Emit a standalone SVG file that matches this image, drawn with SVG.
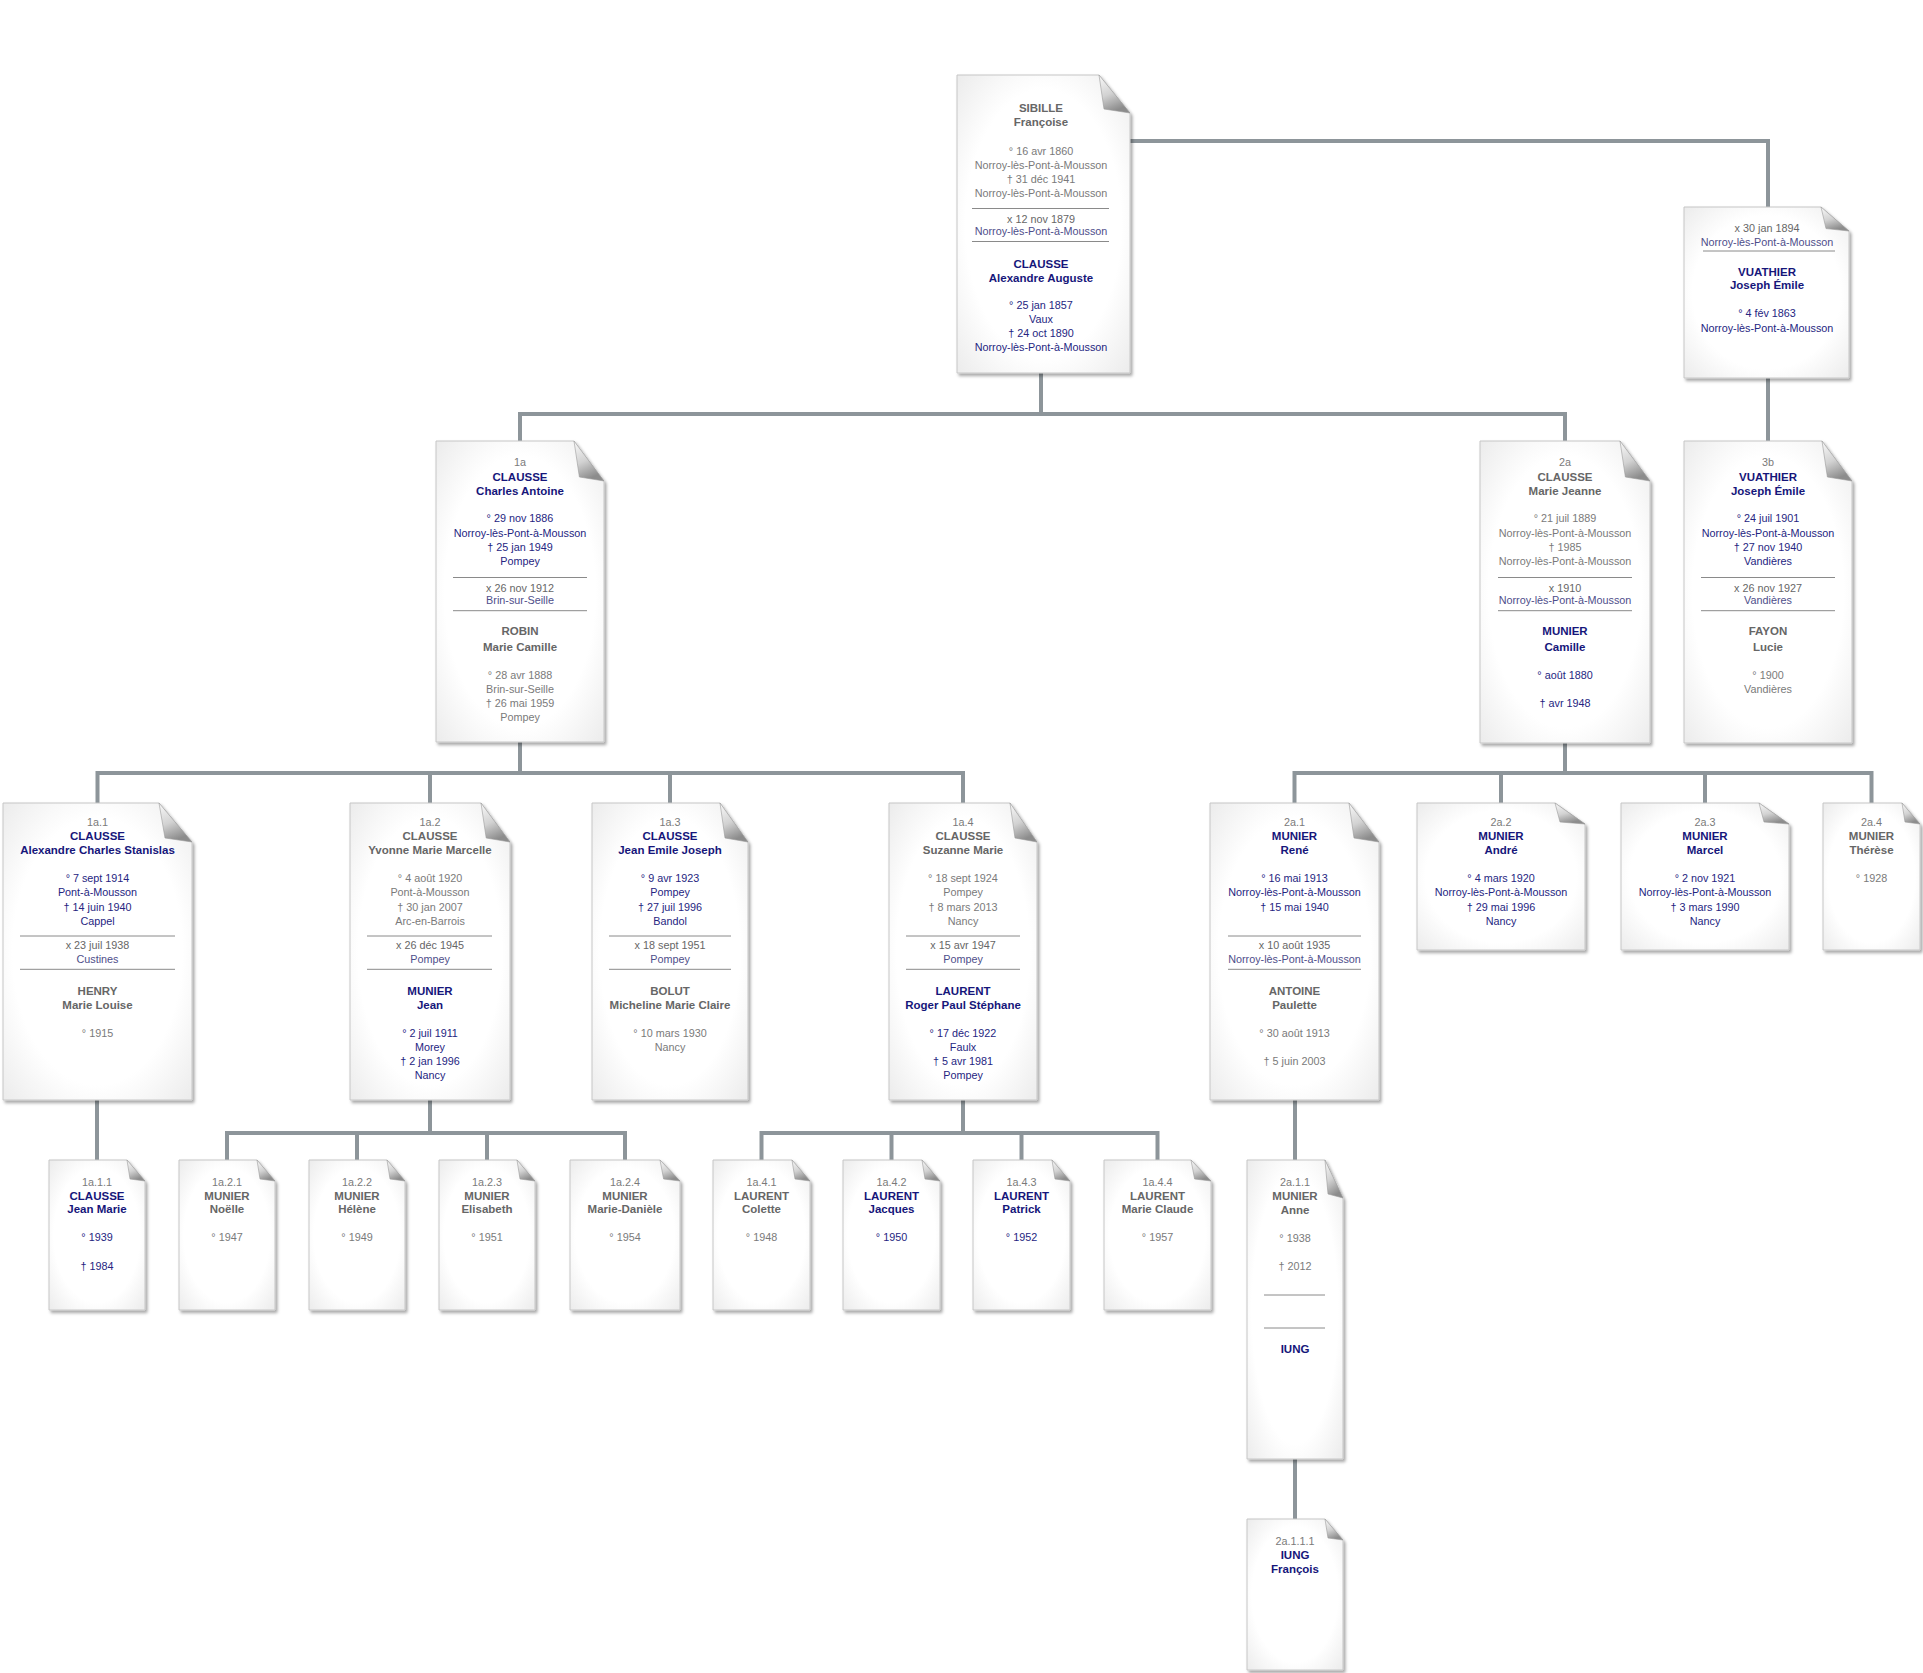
<svg xmlns="http://www.w3.org/2000/svg" width="1923" height="1673" viewBox="0 0 1923 1673">
<style>
.pg{fill:url(#pap);stroke:#c6c6c6;stroke-width:1;filter:url(#sh)}
.fd{fill:url(#fold);stroke:#9a9a9a;stroke-width:0.6}
.sep{stroke:#8a8a8a;stroke-width:1}
.cn{fill:none;stroke:#8d959a;stroke-width:4}
text{font-family:"Liberation Sans",Arial,sans-serif;font-size:10.8px;text-anchor:middle}
.n{fill:#7a7a7a}
.g{fill:#7a7a7a}
.gb{fill:#666666;font-weight:bold;font-size:11.5px}
.b{fill:#25257f}
.bb{fill:#16167a;font-weight:bold;font-size:11.5px}
.m{fill:#666666}
.mp{fill:#4e4e8a}
</style>
<defs>
<filter id="sh" x="-10%" y="-10%" width="125%" height="120%"><feDropShadow dx="2" dy="2.5" stdDeviation="1.8" flood-color="#000" flood-opacity="0.35"/></filter>
<radialGradient id="pap" cx="0.5" cy="0.5" r="0.75"><stop offset="0.6" stop-color="#ffffff"/><stop offset="1" stop-color="#e8e8e8"/></radialGradient>
<linearGradient id="fold" x1="0" y1="0" x2="0.35" y2="1"><stop offset="0" stop-color="#fafafa"/><stop offset="0.55" stop-color="#d2d2d2"/><stop offset="1" stop-color="#8c8c8c"/></linearGradient>
</defs>
<rect width="1923" height="1673" fill="#ffffff"/>
<g id="connectors">
<path class="cn" d="M1128,141 H1768 V207"/>
<path class="cn" d="M1041,373 V414"/>
<path class="cn" d="M520,441 V414 H1565 V441"/>
<path class="cn" d="M1768,378 V441"/>
<path class="cn" d="M520,742 V773"/>
<path class="cn" d="M97.5,803 V773 H963 V803"/>
<path class="cn" d="M430,773 V803"/>
<path class="cn" d="M670,773 V803"/>
<path class="cn" d="M1565,743 V773"/>
<path class="cn" d="M1294.5,803 V773 H1871.5 V803"/>
<path class="cn" d="M1501,773 V803"/>
<path class="cn" d="M1705,773 V803"/>
<path class="cn" d="M97,1100 V1160"/>
<path class="cn" d="M430,1100 V1133"/>
<path class="cn" d="M227,1160 V1133 H625 V1160"/>
<path class="cn" d="M357,1133 V1160"/>
<path class="cn" d="M487,1133 V1160"/>
<path class="cn" d="M963,1100 V1133"/>
<path class="cn" d="M761.5,1160 V1133 H1157.5 V1160"/>
<path class="cn" d="M891.5,1133 V1160"/>
<path class="cn" d="M1021.5,1133 V1160"/>
<path class="cn" d="M1295,1100 V1160"/>
<path class="cn" d="M1295,1459 V1519"/>
</g>

<g id="n-root">
<path class="pg" d="M957,75 H1099 L1130,113 V373 H957 Z"/>
<path class="fd" d="M1099,75 L1130,113 L1104,109 Z"/>
<text class="gb" x="1041" y="112">SIBILLE</text>
<text class="gb" x="1041" y="126.3">Françoise</text>
<text class="g" x="1041" y="155">° 16 avr 1860</text>
<text class="g" x="1041" y="168.7">Norroy-lès-Pont-à-Mousson</text>
<text class="g" x="1041" y="182.5">† 31 déc 1941</text>
<text class="g" x="1041" y="196.5">Norroy-lès-Pont-à-Mousson</text>
<line class="sep" x1="972" y1="208.5" x2="1109" y2="208.5"/>
<text class="m" x="1041" y="223">x 12 nov 1879</text>
<text class="mp" x="1041" y="235">Norroy-lès-Pont-à-Mousson</text>
<line class="sep" x1="972" y1="241.5" x2="1109" y2="241.5"/>
<text class="bb" x="1041" y="268">CLAUSSE</text>
<text class="bb" x="1041" y="281.5">Alexandre Auguste</text>
<text class="b" x="1041" y="309">° 25 jan 1857</text>
<text class="b" x="1041" y="323.3">Vaux</text>
<text class="b" x="1041" y="337.3">† 24 oct 1890</text>
<text class="b" x="1041" y="351">Norroy-lès-Pont-à-Mousson</text>
</g>

<g id="n-vuathier-spouse">
<path class="pg" d="M1684,207 H1821 L1849,231 V378 H1684 Z"/>
<path class="fd" d="M1821,207 L1849,231 L1826,228.6 Z"/>
<text class="m" x="1767" y="232.3">x 30 jan 1894</text>
<text class="mp" x="1767" y="245.7">Norroy-lès-Pont-à-Mousson</text>
<line class="sep" x1="1703" y1="251" x2="1835" y2="251"/>
<text class="bb" x="1767" y="275.7">VUATHIER</text>
<text class="bb" x="1767" y="289">Joseph Émile</text>
<text class="b" x="1767" y="317.3">° 4 fév 1863</text>
<text class="b" x="1767" y="331.5">Norroy-lès-Pont-à-Mousson</text>
</g>

<g id="n-1a">
<path class="pg" d="M436,441 H574 L604,481 V742 H436 Z"/>
<path class="fd" d="M574,441 L604,481 L579.4,477 Z"/>
<text class="n" x="520" y="465.7">1a</text>
<text class="bb" x="520" y="480.5">CLAUSSE</text>
<text class="bb" x="520" y="494.7">Charles Antoine</text>
<text class="b" x="520" y="522.3">° 29 nov 1886</text>
<text class="b" x="520" y="536.7">Norroy-lès-Pont-à-Mousson</text>
<text class="b" x="520" y="550.7">† 25 jan 1949</text>
<text class="b" x="520" y="564.7">Pompey</text>
<line class="sep" x1="453" y1="577.5" x2="587" y2="577.5"/>
<text class="m" x="520" y="592.3">x 26 nov 1912</text>
<text class="mp" x="520" y="604">Brin-sur-Seille</text>
<line class="sep" x1="453" y1="610.7" x2="587" y2="610.7"/>
<text class="gb" x="520" y="634.7">ROBIN</text>
<text class="gb" x="520" y="650.7">Marie Camille</text>
<text class="g" x="520" y="679">° 28 avr 1888</text>
<text class="g" x="520" y="692.7">Brin-sur-Seille</text>
<text class="g" x="520" y="706.7">† 26 mai 1959</text>
<text class="g" x="520" y="720.7">Pompey</text>
</g>

<g id="n-2a">
<path class="pg" d="M1480,441 H1620 L1650,481 V743 H1480 Z"/>
<path class="fd" d="M1620,441 L1650,481 L1625.4,477 Z"/>
<text class="n" x="1565" y="465.7">2a</text>
<text class="gb" x="1565" y="480.5">CLAUSSE</text>
<text class="gb" x="1565" y="494.7">Marie Jeanne</text>
<text class="g" x="1565" y="522.3">° 21 juil 1889</text>
<text class="g" x="1565" y="536.7">Norroy-lès-Pont-à-Mousson</text>
<text class="g" x="1565" y="550.7">† 1985</text>
<text class="g" x="1565" y="564.7">Norroy-lès-Pont-à-Mousson</text>
<line class="sep" x1="1498" y1="577.5" x2="1632" y2="577.5"/>
<text class="m" x="1565" y="592.3">x 1910</text>
<text class="mp" x="1565" y="604">Norroy-lès-Pont-à-Mousson</text>
<line class="sep" x1="1498" y1="610.7" x2="1632" y2="610.7"/>
<text class="bb" x="1565" y="634.7">MUNIER</text>
<text class="bb" x="1565" y="650.7">Camille</text>
<text class="b" x="1565" y="679">° août 1880</text>
<text class="b" x="1565" y="706.7">† avr 1948</text>
</g>

<g id="n-3b">
<path class="pg" d="M1684,441 H1822 L1852,481 V743 H1684 Z"/>
<path class="fd" d="M1822,441 L1852,481 L1827.4,477 Z"/>
<text class="n" x="1768" y="465.7">3b</text>
<text class="bb" x="1768" y="480.5">VUATHIER</text>
<text class="bb" x="1768" y="494.7">Joseph Émile</text>
<text class="b" x="1768" y="522.3">° 24 juil 1901</text>
<text class="b" x="1768" y="536.7">Norroy-lès-Pont-à-Mousson</text>
<text class="b" x="1768" y="550.7">† 27 nov 1940</text>
<text class="b" x="1768" y="564.7">Vandières</text>
<line class="sep" x1="1701" y1="577.5" x2="1835" y2="577.5"/>
<text class="m" x="1768" y="592.3">x 26 nov 1927</text>
<text class="mp" x="1768" y="604">Vandières</text>
<line class="sep" x1="1701" y1="610.7" x2="1835" y2="610.7"/>
<text class="gb" x="1768" y="634.7">FAYON</text>
<text class="gb" x="1768" y="650.7">Lucie</text>
<text class="g" x="1768" y="679">° 1900</text>
<text class="g" x="1768" y="692.7">Vandières</text>
</g>

<g id="n-1a1">
<path class="pg" d="M3,803 H159 L192,842 V1100 H3 Z"/>
<path class="fd" d="M159,803 L192,842 L165,838 Z"/>
<text class="n" x="97.5" y="825.7">1a.1</text>
<text class="bb" x="97.5" y="840">CLAUSSE</text>
<text class="bb" x="97.5" y="854">Alexandre Charles Stanislas</text>
<text class="b" x="97.5" y="882.3">° 7 sept 1914</text>
<text class="b" x="97.5" y="896.3">Pont-à-Mousson</text>
<text class="b" x="97.5" y="910.7">† 14 juin 1940</text>
<text class="b" x="97.5" y="924.7">Cappel</text>
<line class="sep" x1="20" y1="936" x2="175" y2="936"/>
<text class="m" x="97.5" y="949">x 23 juil 1938</text>
<text class="mp" x="97.5" y="963.3">Custines</text>
<line class="sep" x1="20" y1="969.3" x2="175" y2="969.3"/>
<text class="gb" x="97.5" y="995">HENRY</text>
<text class="gb" x="97.5" y="1009">Marie Louise</text>
<text class="g" x="97.5" y="1037.3">° 1915</text>
</g>

<g id="n-1a2">
<path class="pg" d="M350,803 H481 L510,842 V1100 H350 Z"/>
<path class="fd" d="M481,803 L510,842 L486.2,838 Z"/>
<text class="n" x="430" y="825.7">1a.2</text>
<text class="gb" x="430" y="840">CLAUSSE</text>
<text class="gb" x="430" y="854">Yvonne Marie Marcelle</text>
<text class="g" x="430" y="882.3">° 4 août 1920</text>
<text class="g" x="430" y="896.3">Pont-à-Mousson</text>
<text class="g" x="430" y="910.7">† 30 jan 2007</text>
<text class="g" x="430" y="924.7">Arc-en-Barrois</text>
<line class="sep" x1="367" y1="936" x2="492" y2="936"/>
<text class="m" x="430" y="949">x 26 déc 1945</text>
<text class="mp" x="430" y="963.3">Pompey</text>
<line class="sep" x1="367" y1="969.3" x2="492" y2="969.3"/>
<text class="bb" x="430" y="995">MUNIER</text>
<text class="bb" x="430" y="1009">Jean</text>
<text class="b" x="430" y="1037.3">° 2 juil 1911</text>
<text class="b" x="430" y="1051.3">Morey</text>
<text class="b" x="430" y="1065.3">† 2 jan 1996</text>
<text class="b" x="430" y="1079.3">Nancy</text>
</g>

<g id="n-1a3">
<path class="pg" d="M592,803 H720 L748,842 V1100 H592 Z"/>
<path class="fd" d="M720,803 L748,842 L725,838 Z"/>
<text class="n" x="670" y="825.7">1a.3</text>
<text class="bb" x="670" y="840">CLAUSSE</text>
<text class="bb" x="670" y="854">Jean Emile Joseph</text>
<text class="b" x="670" y="882.3">° 9 avr 1923</text>
<text class="b" x="670" y="896.3">Pompey</text>
<text class="b" x="670" y="910.7">† 27 juil 1996</text>
<text class="b" x="670" y="924.7">Bandol</text>
<line class="sep" x1="609" y1="936" x2="731" y2="936"/>
<text class="m" x="670" y="949">x 18 sept 1951</text>
<text class="mp" x="670" y="963.3">Pompey</text>
<line class="sep" x1="609" y1="969.3" x2="731" y2="969.3"/>
<text class="gb" x="670" y="995">BOLUT</text>
<text class="gb" x="670" y="1009">Micheline Marie Claire</text>
<text class="g" x="670" y="1037.3">° 10 mars 1930</text>
<text class="g" x="670" y="1051.3">Nancy</text>
</g>

<g id="n-1a4">
<path class="pg" d="M889,803 H1010 L1037,842 V1100 H889 Z"/>
<path class="fd" d="M1010,803 L1037,842 L1015,838 Z"/>
<text class="n" x="963" y="825.7">1a.4</text>
<text class="gb" x="963" y="840">CLAUSSE</text>
<text class="gb" x="963" y="854">Suzanne Marie</text>
<text class="g" x="963" y="882.3">° 18 sept 1924</text>
<text class="g" x="963" y="896.3">Pompey</text>
<text class="g" x="963" y="910.7">† 8 mars 2013</text>
<text class="g" x="963" y="924.7">Nancy</text>
<line class="sep" x1="906" y1="936" x2="1020" y2="936"/>
<text class="m" x="963" y="949">x 15 avr 1947</text>
<text class="mp" x="963" y="963.3">Pompey</text>
<line class="sep" x1="906" y1="969.3" x2="1020" y2="969.3"/>
<text class="bb" x="963" y="995">LAURENT</text>
<text class="bb" x="963" y="1009">Roger Paul Stéphane</text>
<text class="b" x="963" y="1037.3">° 17 déc 1922</text>
<text class="b" x="963" y="1051.3">Faulx</text>
<text class="b" x="963" y="1065.3">† 5 avr 1981</text>
<text class="b" x="963" y="1079.3">Pompey</text>
</g>

<g id="n-2a1">
<path class="pg" d="M1210,803 H1349 L1379,842 V1100 H1210 Z"/>
<path class="fd" d="M1349,803 L1379,842 L1354,838 Z"/>
<text class="n" x="1294.5" y="825.7">2a.1</text>
<text class="bb" x="1294.5" y="840">MUNIER</text>
<text class="bb" x="1294.5" y="854">René</text>
<text class="b" x="1294.5" y="882.3">° 16 mai 1913</text>
<text class="b" x="1294.5" y="896.3">Norroy-lès-Pont-à-Mousson</text>
<text class="b" x="1294.5" y="910.7">† 15 mai 1940</text>
<line class="sep" x1="1228" y1="936" x2="1361" y2="936"/>
<text class="m" x="1294.5" y="949">x 10 août 1935</text>
<text class="mp" x="1294.5" y="963.3">Norroy-lès-Pont-à-Mousson</text>
<line class="sep" x1="1228" y1="969.3" x2="1361" y2="969.3"/>
<text class="gb" x="1294.5" y="995">ANTOINE</text>
<text class="gb" x="1294.5" y="1009">Paulette</text>
<text class="g" x="1294.5" y="1037.3">° 30 août 1913</text>
<text class="g" x="1294.5" y="1065.3">† 5 juin 2003</text>
</g>

<g id="n-2a2">
<path class="pg" d="M1417,803 H1555 L1585,824 V950 H1417 Z"/>
<path class="fd" d="M1555,803 L1585,824 L1560,822 Z"/>
<text class="n" x="1501" y="825.7">2a.2</text>
<text class="bb" x="1501" y="840">MUNIER</text>
<text class="bb" x="1501" y="854">André</text>
<text class="b" x="1501" y="882.3">° 4 mars 1920</text>
<text class="b" x="1501" y="896.3">Norroy-lès-Pont-à-Mousson</text>
<text class="b" x="1501" y="910.7">† 29 mai 1996</text>
<text class="b" x="1501" y="924.7">Nancy</text>
</g>

<g id="n-2a3">
<path class="pg" d="M1621,803 H1759 L1789,824 V950 H1621 Z"/>
<path class="fd" d="M1759,803 L1789,824 L1764,822 Z"/>
<text class="n" x="1705" y="825.7">2a.3</text>
<text class="bb" x="1705" y="840">MUNIER</text>
<text class="bb" x="1705" y="854">Marcel</text>
<text class="b" x="1705" y="882.3">° 2 nov 1921</text>
<text class="b" x="1705" y="896.3">Norroy-lès-Pont-à-Mousson</text>
<text class="b" x="1705" y="910.7">† 3 mars 1990</text>
<text class="b" x="1705" y="924.7">Nancy</text>
</g>

<g id="n-2a4">
<path class="pg" d="M1823,803 H1902 L1920,824 V950 H1823 Z"/>
<path class="fd" d="M1902,803 L1920,824 L1905,822 Z"/>
<text class="n" x="1871.5" y="825.7">2a.4</text>
<text class="gb" x="1871.5" y="840">MUNIER</text>
<text class="gb" x="1871.5" y="854">Thérèse</text>
<text class="g" x="1871.5" y="882.3">° 1928</text>
</g>

<g id="n-1a11">
<path class="pg" d="M49,1160 H127 L145,1181 V1310 H49 Z"/>
<path class="fd" d="M127,1160 L145,1181 L130,1179 Z"/>
<text class="n" x="97" y="1185.7">1a.1.1</text>
<text class="bb" x="97" y="1199.7">CLAUSSE</text>
<text class="bb" x="97" y="1213.3">Jean Marie</text>
<text class="b" x="97" y="1241.3">° 1939</text>
<text class="b" x="97" y="1269.7">† 1984</text>
</g>

<g id="n-1a21">
<path class="pg" d="M179,1160 H257 L275,1181 V1310 H179 Z"/>
<path class="fd" d="M257,1160 L275,1181 L260,1179 Z"/>
<text class="n" x="227" y="1185.7">1a.2.1</text>
<text class="gb" x="227" y="1199.7">MUNIER</text>
<text class="gb" x="227" y="1213.3">Noëlle</text>
<text class="g" x="227" y="1241.3">° 1947</text>
</g>

<g id="n-1a22">
<path class="pg" d="M309,1160 H387 L405,1181 V1310 H309 Z"/>
<path class="fd" d="M387,1160 L405,1181 L390,1179 Z"/>
<text class="n" x="357" y="1185.7">1a.2.2</text>
<text class="gb" x="357" y="1199.7">MUNIER</text>
<text class="gb" x="357" y="1213.3">Hélène</text>
<text class="g" x="357" y="1241.3">° 1949</text>
</g>

<g id="n-1a23">
<path class="pg" d="M439,1160 H517 L535,1181 V1310 H439 Z"/>
<path class="fd" d="M517,1160 L535,1181 L520,1179 Z"/>
<text class="n" x="487" y="1185.7">1a.2.3</text>
<text class="gb" x="487" y="1199.7">MUNIER</text>
<text class="gb" x="487" y="1213.3">Elisabeth</text>
<text class="g" x="487" y="1241.3">° 1951</text>
</g>

<g id="n-1a24">
<path class="pg" d="M570,1160 H660 L680,1181 V1310 H570 Z"/>
<path class="fd" d="M660,1160 L680,1181 L663.6,1179 Z"/>
<text class="n" x="625" y="1185.7">1a.2.4</text>
<text class="gb" x="625" y="1199.7">MUNIER</text>
<text class="gb" x="625" y="1213.3">Marie-Danièle</text>
<text class="g" x="625" y="1241.3">° 1954</text>
</g>

<g id="n-1a41">
<path class="pg" d="M713,1160 H792 L810,1181 V1310 H713 Z"/>
<path class="fd" d="M792,1160 L810,1181 L795,1179 Z"/>
<text class="n" x="761.5" y="1185.7">1a.4.1</text>
<text class="gb" x="761.5" y="1199.7">LAURENT</text>
<text class="gb" x="761.5" y="1213.3">Colette</text>
<text class="g" x="761.5" y="1241.3">° 1948</text>
</g>

<g id="n-1a42">
<path class="pg" d="M843,1160 H922 L940,1181 V1310 H843 Z"/>
<path class="fd" d="M922,1160 L940,1181 L925,1179 Z"/>
<text class="n" x="891.5" y="1185.7">1a.4.2</text>
<text class="bb" x="891.5" y="1199.7">LAURENT</text>
<text class="bb" x="891.5" y="1213.3">Jacques</text>
<text class="b" x="891.5" y="1241.3">° 1950</text>
</g>

<g id="n-1a43">
<path class="pg" d="M973,1160 H1052 L1070,1181 V1310 H973 Z"/>
<path class="fd" d="M1052,1160 L1070,1181 L1055,1179 Z"/>
<text class="n" x="1021.5" y="1185.7">1a.4.3</text>
<text class="bb" x="1021.5" y="1199.7">LAURENT</text>
<text class="bb" x="1021.5" y="1213.3">Patrick</text>
<text class="b" x="1021.5" y="1241.3">° 1952</text>
</g>

<g id="n-1a44">
<path class="pg" d="M1104,1160 H1191 L1211,1181 V1310 H1104 Z"/>
<path class="fd" d="M1191,1160 L1211,1181 L1194.6,1179 Z"/>
<text class="n" x="1157.5" y="1185.7">1a.4.4</text>
<text class="gb" x="1157.5" y="1199.7">LAURENT</text>
<text class="gb" x="1157.5" y="1213.3">Marie Claude</text>
<text class="g" x="1157.5" y="1241.3">° 1957</text>
</g>

<g id="n-2a11">
<path class="pg" d="M1247,1160 H1325 L1343,1198 V1459 H1247 Z"/>
<path class="fd" d="M1325,1160 L1343,1198 L1328,1194 Z"/>
<text class="n" x="1295" y="1186">2a.1.1</text>
<text class="gb" x="1295" y="1200">MUNIER</text>
<text class="gb" x="1295" y="1214">Anne</text>
<text class="g" x="1295" y="1242">° 1938</text>
<text class="g" x="1295" y="1270">† 2012</text>
<line class="sep" x1="1264" y1="1295" x2="1325" y2="1295"/>
<line class="sep" x1="1264" y1="1328" x2="1325" y2="1328"/>
<text class="bb" x="1295" y="1353">IUNG</text>
</g>

<g id="n-2a111">
<path class="pg" d="M1247,1519 H1325 L1343,1540 V1670 H1247 Z"/>
<path class="fd" d="M1325,1519 L1343,1540 L1328,1538 Z"/>
<text class="n" x="1295" y="1544.7">2a.1.1.1</text>
<text class="bb" x="1295" y="1558.7">IUNG</text>
<text class="bb" x="1295" y="1572.7">François</text>
</g>
</svg>
